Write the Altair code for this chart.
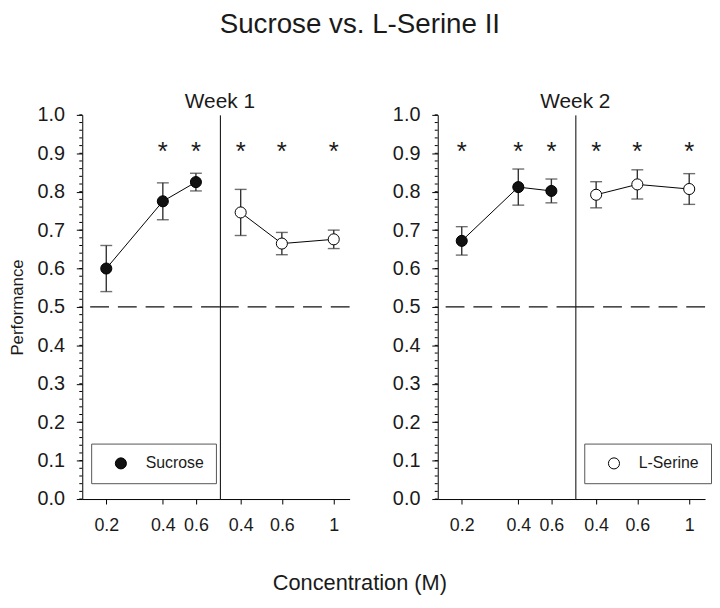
import altair as alt
import pandas as pd

# ---------------- data ----------------
suc_conc = [0.2, 0.4, 0.6]
ser_conc = [0.4, 0.6, 1.0]

w1_suc_mean = [0.600, 0.775, 0.825]
w1_suc_sem = [0.060, 0.048, 0.023]
w1_suc_sig = [False, True, True]
w1_ser_mean = [0.746, 0.665, 0.676]
w1_ser_sem = [0.060, 0.029, 0.024]
w1_ser_sig = [True, True, True]

w2_suc_mean = [0.672, 0.812, 0.802]
w2_suc_sem = [0.037, 0.047, 0.031]
w2_suc_sig = [True, True, True]
w2_ser_mean = [0.792, 0.819, 0.807]
w2_ser_sem = [0.034, 0.038, 0.040]
w2_ser_sig = [True, True, True]

y_ticks = [0.0, 0.1, 0.2, 0.3, 0.4, 0.5, 0.6, 0.7, 0.8, 0.9, 1.0]
minor_ticks = [round(i * 0.02, 2) for i in range(51)]
chance_level = 0.5
star_level = 0.9

FONT = "Liberation Sans"
TXT = "#1a1a1a"
PLOT_H = 388

ys = alt.Scale(domain=[0, 1], nice=False, zero=False)


def make_yaxis(kind):
    if kind == "main":
        return alt.Axis(values=y_ticks, format=".1f", title="Performance", tickSize=6,
                        labelPadding=12, titlePadding=11, labelFontSize=20, titleFontSize=17,
                        grid=False)
    if kind == "plain":
        return alt.Axis(values=y_ticks, format=".1f", title=None, tickSize=6,
                        labelPadding=12, labelFontSize=20, grid=False)
    return alt.Axis(labels=False, ticks=False, title=None, grid=False)


def sub(conc, mean, sem, sig, series, fillcol, xdomain, width, ykind, legend=None, title=None):
    df = pd.DataFrame({
        "conc": conc,
        "mean": mean,
        "lo": [m - s for m, s in zip(mean, sem)],
        "hi": [m + s for m, s in zip(mean, sem)],
        "series": [series] * len(conc),
        "sig": sig,
        "star": [star_level] * len(conc),
    })
    yax = make_yaxis(ykind)
    xs = alt.Scale(type="log", domain=xdomain, nice=False)
    xax = alt.Axis(values=conc, format="~g", title=None, grid=False, tickSize=5,
                   labelPadding=13, labelFontSize=18, labelFlush=False)
    X = alt.X("conc:Q", scale=xs, axis=xax)
    base = alt.Chart(df)

    layers = []
    layers.append(
        alt.Chart(pd.DataFrame({"level": [chance_level]}))
        .mark_rule(color="#111111", strokeDash=[19, 9], strokeWidth=1.3)
        .encode(y=alt.Y("level:Q", scale=ys, axis=yax))
    )
    if ykind != "div":
        layers.append(
            alt.Chart(pd.DataFrame({"t": minor_ticks}))
            .mark_rule(color="black", strokeWidth=1)
            .encode(y=alt.Y("t:Q", scale=ys, axis=yax), x=alt.value(-3), x2=alt.value(0))
        )
    layers.append(
        base.mark_rule(color="#333333", strokeWidth=1.4)
        .encode(x=X, y=alt.Y("lo:Q", scale=ys, axis=yax), y2="hi:Q")
    )
    layers.append(
        base.transform_fold(["lo", "hi"], as_=["end", "val"])
        .mark_tick(orient="horizontal", size=12, thickness=1.4, color="#333333")
        .encode(x=X, y=alt.Y("val:Q", scale=ys, axis=yax))
    )
    layers.append(
        base.mark_line(color="black", strokeWidth=1)
        .encode(x=X, y=alt.Y("mean:Q", scale=ys, axis=yax))
    )
    if legend is not None:
        pts = base.mark_point(shape="circle", size=125, filled=True, stroke="black",
                              strokeWidth=1, opacity=1).encode(
            x=X, y=alt.Y("mean:Q", scale=ys, axis=yax),
            fill=alt.Fill("series:N", scale=alt.Scale(domain=[series], range=[fillcol]),
                          legend=legend),
        )
    else:
        pts = base.mark_point(shape="circle", size=125, filled=True, fill=fillcol,
                              stroke="black", strokeWidth=1, opacity=1).encode(
            x=X, y=alt.Y("mean:Q", scale=ys, axis=yax))
    layers.append(pts)
    layers.append(
        base.transform_filter("datum.sig")
        .mark_text(text="*", fontSize=26, font=FONT, color=TXT, baseline="alphabetic", dy=7)
        .encode(x=X, y=alt.Y("star:Q", scale=ys, axis=yax))
    )
    props = dict(width=width, height=PLOT_H)
    if title is not None:
        props["title"] = alt.TitleParams(title, fontSize=21, font=FONT, fontWeight="normal",
                                         color=TXT, anchor="start", align="center",
                                         frame="group", offset=3)
    return alt.layer(*layers).properties(**props)


def legend_at(x, y):
    return alt.Legend(orient="none", legendX=x, legendY=y, title=None, strokeColor="#555555",
                      fillColor="white", padding=12, symbolOffset=10, labelOffset=17,
                      symbolSize=125, symbolType="circle", symbolStrokeColor="black",
                      symbolStrokeWidth=1, labelFontSize=16, labelFont=FONT, labelColor=TXT)


SUC_DOM = [0.149, 0.805]
SER_DOM = [0.326, 1.169]
SUC_W = 139
SER_W = 131

panel1 = alt.hconcat(
    sub(suc_conc, w1_suc_mean, w1_suc_sem, w1_suc_sig, "Sucrose", "#111111", SUC_DOM, SUC_W,
        "main", legend_at(9, 332)),
    sub(ser_conc, w1_ser_mean, w1_ser_sem, w1_ser_sig, "L-Serine", "white", SER_DOM, SER_W,
        "div", title="Week 1"),
    spacing=0, bounds="flush",
)
panel2 = alt.hconcat(
    sub(suc_conc, w2_suc_mean, w2_suc_sem, w2_suc_sig, "Sucrose", "#111111", SUC_DOM, SUC_W,
        "plain"),
    sub(ser_conc, w2_ser_mean, w2_ser_sem, w2_ser_sig, "L-Serine", "white", SER_DOM, SER_W,
        "div", legend_at(148, 332), title="Week 2"),
    spacing=0, bounds="flush",
)

outer = alt.hconcat(
    panel1, panel2, spacing=42,
    title=alt.TitleParams("Concentration (M)", orient="bottom", fontSize=22, font=FONT,
                          fontWeight="normal", color=TXT, anchor="middle", offset=39),
).resolve_scale(fill="independent").resolve_legend(fill="independent")

chart = alt.vconcat(
    outer,
    title=alt.TitleParams("Sucrose vs. L-Serine II", fontSize=28, font=FONT,
                          fontWeight="normal", color=TXT, anchor="middle", offset=53),
).properties(padding=0, background="white").configure_view(stroke=None).configure_axis(
    domainColor="black", tickColor="black", labelColor=TXT, titleColor=TXT,
    labelFont=FONT, titleFont=FONT, titleFontWeight="normal", domainWidth=1, tickWidth=1,
)

chart.save("out.html", embed_options={"renderer": "svg", "actions": False})
